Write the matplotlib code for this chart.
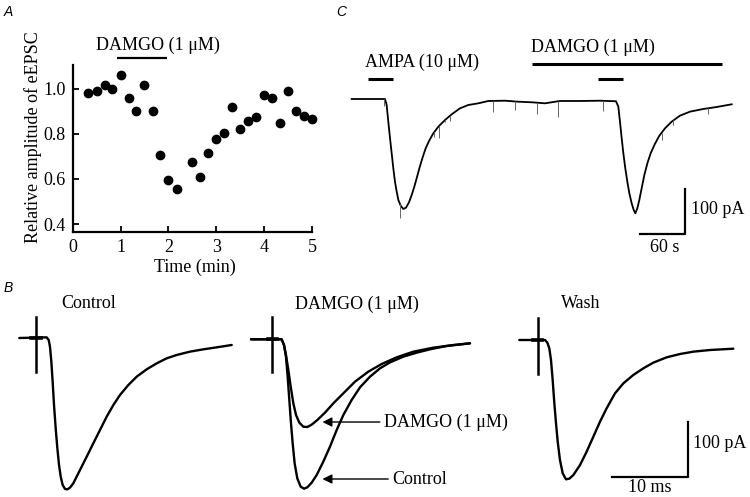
import matplotlib
matplotlib.use("Agg")
import matplotlib.pyplot as plt
import numpy as np

W, H = 750, 497
fig = plt.figure(figsize=(7.5, 4.97), dpi=100)

SERIF = "Liberation Serif"
SANS = "Liberation Sans"
FS = 13

# ---------------- Panel A data ----------------
time_min = [0.33, 0.5, 0.67, 0.83, 1.0, 1.17, 1.33, 1.5, 1.67, 1.83, 2.0, 2.17,
            2.5, 2.67, 2.83, 3.0, 3.17, 3.33, 3.5, 3.67, 3.83, 4.0, 4.17, 4.33,
            4.5, 4.67, 4.83, 5.0]
rel_amp = [0.98, 0.99, 1.015, 1.0, 1.062, 0.957, 0.90, 1.015, 0.90, 0.704, 0.594, 0.554,
           0.673, 0.61, 0.715, 0.777, 0.803, 0.917, 0.82, 0.857, 0.876, 0.972, 0.957, 0.848,
           0.99, 0.90, 0.879, 0.867]
a_xticks = [0, 1, 2, 3, 4, 5]
a_yticks = [0.4, 0.6, 0.8, 1.0]
a_damgo_bar = (0.93, 1.97)

# ---------------- Panel B data (ms, pA) ----------------
b_ctl_t = [-2.2, 1.40, 1.67, 1.84, 2.02, 2.19, 2.37, 2.59, 2.81, 3.03,
           3.25, 3.51, 3.82, 4.12, 4.47, 4.91, 5.35, 6.01, 6.67, 7.54,
           8.42, 9.30, 10.18, 11.05, 12.15, 13.25, 14.56, 15.88, 17.19, 18.51,
           20.26, 22.02, 23.77, 25.75]
b_ctl_i = [0, 1.2, -3.6, -15.8, -43, -79.4, -121.8, -164.2, -200.6, -230.9,
           -252.1, -267.3, -274.5, -275.2, -272.1, -264.2, -252.1, -233.9, -215.8, -191.5,
           -167.3, -143, -121.8, -103.6, -85.5, -70.3, -57, -46.1, -37, -30.9,
           -24.8, -20.6, -17, -12.7]

b_midctl_t = [-2.8, 1.23, 1.54, 1.80, 2.02, 2.24, 2.46, 2.68, 2.94, 3.29, 3.73, 4.17,
              4.61, 5.18, 5.84, 6.71, 7.59, 8.47, 9.35, 10.44, 11.54, 12.86, 14.17,
              15.49, 17.24, 19.0, 20.75, 22.94, 26.01]
b_midctl_i = [0, 0, -10.4, -31.6, -67.9, -110.4, -152.8, -189.1, -225.5, -252.8, -267.9,
              -271.6, -269.1, -260.7, -246.7, -222.5, -195.2, -164.9, -137.6, -110.4,
              -87.3, -67.9, -52.8, -41.9, -31.6, -24.3, -18.2, -12.2, -7.3]

b_dam_t = [-2.8, 1.23, 1.54, 1.80, 2.11, 2.42, 2.77, 3.12, 3.56, 4.08, 4.61, 5.18,
           5.93, 6.93, 8.03, 9.35, 10.88, 12.64, 14.39, 16.36, 18.56, 21.19, 23.82, 26.01]
b_dam_i = [0, 0, -10.4, -28.5, -55.8, -86.1, -116.4, -137.6, -151.6, -158.9, -159.5,
           -155.2, -146.7, -133.4, -116.4, -98.2, -77, -58.8, -44.9, -32.8, -22.5,
           -15.2, -10.4, -7.3]

b_wash_t = [-2.42, 0.96, 1.27, 1.53, 1.75, 1.97, 2.19, 2.41, 2.63, 2.93, 3.29, 3.72,
            4.16, 4.69, 5.57, 6.44, 7.32, 8.20, 9.07, 10.17, 11.27, 12.58, 13.90,
            15.21, 16.97, 18.72, 20.48, 22.67, 25.74]
b_wash_i = [0, 0, -4.8, -15.2, -36.4, -72.7, -115.2, -151.5, -184.8, -218.2, -242.4,
            -253.3, -252.1, -245.5, -227.3, -203, -175.8, -148.5, -124.2, -97, -78.8,
            -63.6, -51.5, -41.2, -31.5, -25.5, -21.2, -18.2, -15.8]

artifact_top = [39, 41, 39.5]
artifact_bottom = [-61, -59, -62]
b_titles = ["Control", "DAMGO (1 \u03bcM)", "Wash"]

# ---------------- Panel C data (s, pA) ----------------
c_t = [0, 44.4, 46.6, 48.8, 51.1, 53.3, 55.5, 57.7, 60.0, 62.2,
       65.3, 68.8, 72.4, 76.4, 80.0, 83.5, 86.6, 90.2, 94.2, 98.6,
       103.1, 108.8, 115.5, 124.4, 133.3, 144.4, 155.5, 168.8, 182.2, 204.4,
       222.1, 240, 257.7, 277.7, 304.4, 331.1, 352.4, 355.5, 357.7, 360.0,
       362.2, 364.8, 367.5, 370.2, 373.3, 376.0, 378.2, 380.8, 383.5, 386.6,
       390.2, 394.2, 398.6, 404.0, 410.2, 417.7, 426.6, 437.7, 451.1, 468.8,
       486.6, 506.6]
c_i = [0, 0, -13.3, -50.4, -87.4, -120.7, -154.1, -183.7, -205.9, -224.4,
       -237, -244.4, -241.5, -229.6, -213.3, -194.8, -176.3, -154.1, -131.8, -109.6,
       -93.3, -76.3, -61.5, -46.7, -34.1, -20.7, -13.3, -9.6, -4.4, -3.8,
       -6, -7.3, -9.6, -4.4, -4.4, -3.8, -5, -17, -50.4, -87.4,
       -120.7, -154.1, -183.7, -209.6, -231.8, -246.7, -254.1, -243, -224.4, -198.5,
       -168.9, -143, -120.7, -100.7, -81.5, -65.2, -50.4, -37, -28.1, -22.2,
       -17.8, -11.8]
c_spike_t = [43.5, 64.4, 110, 116, 125, 131, 189, 217.8, 246.7, 275.5, 335.5, 413.3, 428.9, 475.5]
c_spike_tip = [-15, -264, -84, -87, -50, -49, -28, -24, -34, -39, -27, -91, -58, -34]
c_ampa_bars = [(21.7, 55.1), (328.8, 361.3)]
c_damgo_bar = (240, 493.3)


def px_axes(left, top, right, bottom):
    return fig.add_axes([left / W, 1 - bottom / H, (right - left) / W, (bottom - top) / H])


def trace_axes(box, origin, sx, sy):
    left, top, right, bottom = box
    ox, oy = origin
    ax = px_axes(*box)
    ax.set_xlim((left - ox) / sx, (right - ox) / sx)
    ax.set_ylim(-(bottom - oy) / sy, (oy - top) / sy)
    ax.axis("off")
    return ax


def ftext(x, y, s, **kw):
    kw.setdefault("family", SERIF)
    kw.setdefault("fontsize", FS)
    fig.text(x / W, 1 - y / H, s, **kw)


# ================= Panel A =================
axA = px_axes(72.7, 65, 312, 232)
axA.plot(time_min, rel_amp, "o", color="black", markersize=6, clip_on=False)
axA.set_xlim(0, 5)
axA.set_ylim(0.365, 1.105)
axA.set_xticks(a_xticks)
axA.set_yticks(a_yticks)
axA.set_yticklabels(["0.4", "0.6", "0.8", "1.0"])
for s in ["top", "right"]:
    axA.spines[s].set_visible(False)
for s in ["left", "bottom"]:
    axA.spines[s].set_linewidth(1.6)
axA.tick_params(direction="in", length=4, width=1.3, labelsize=FS, pad=5)
for lab in axA.get_xticklabels() + axA.get_yticklabels():
    lab.set_family(SERIF)
axA.plot(a_damgo_bar, [1.137, 1.137], color="black", lw=1.6, clip_on=False,
         solid_capstyle="butt")
ftext(157.5, 45.5, "DAMGO (1 \u03bcM)", ha="center", va="center")
ftext(195, 267, "Time (min)", ha="center", va="center")
ftext(33, 137, "Relative amplitude of eEPSC", ha="center", va="center", rotation=90)

# ================= Panel B =================
B_SX, B_SY = 7.6, 0.55
axB1 = trace_axes((0, 295, 245, 497), (36, 338), B_SX, B_SY)
axB2 = trace_axes((245, 295, 500, 497), (272.3, 339.3), B_SX, B_SY)
axB3 = trace_axes((500, 295, 750, 497), (537.7, 340), B_SX, B_SY)

LWB = 1.7
for ax, t, i in [(axB1, b_ctl_t, b_ctl_i), (axB2, b_midctl_t, b_midctl_i),
                 (axB2, b_dam_t, b_dam_i), (axB3, b_wash_t, b_wash_i)]:
    ax.plot(t, i, color="black", lw=LWB, solid_joinstyle="round", solid_capstyle="round")
for ax, top, bot in zip([axB1, axB2, axB3], artifact_top, artifact_bottom):
    ax.plot([0, 0], [bot, top], color="black", lw=1.8)
    ax.plot([-0.6, 0.6], [0, 0], color="black", lw=2.6)

arrow_kw = dict(arrowstyle="-|>", color="black", lw=1.0, mutation_scale=14,
                shrinkA=1, shrinkB=0)
axB2.annotate("DAMGO (1 \u03bcM)", xy=(6.6, -150.4), xytext=(14.7, -150.4),
              ha="left", va="center", family=SERIF, fontsize=FS, arrowprops=arrow_kw)
axB2.annotate("Control", xy=(6.6, -254), xytext=(15.8, -254),
              ha="left", va="center", family=SERIF, fontsize=FS, arrowprops=arrow_kw)

# scale bar B
axB3.plot([9.78, 19.78, 19.78], [-248.5, -248.5, -148.5], color="black", lw=1.6)
ftext(650, 487, "10 ms", ha="center", va="center")
ftext(693, 443, "100 pA", ha="left", va="center")

for x, s in zip([89, 357, 581], b_titles):
    ftext(x, 304, s, ha="center", va="center")

# ================= Panel C =================
C_SX, C_SY = 0.75, 0.45
axC = trace_axes((340, 30, 745, 262), (351.7, 99), C_SX, C_SY)
axC.plot(c_t, c_i, color="black", lw=1.3, solid_joinstyle="round")
spike_base = np.interp(c_spike_t, c_t, c_i)
axC.vlines(c_spike_t, c_spike_tip, spike_base, color="#666666", lw=0.7)
for a, b in c_ampa_bars:
    axC.plot([a, b], [45, 45], color="black", lw=2.2, solid_capstyle="butt")
axC.plot(c_damgo_bar, [77.8, 77.8], color="black", lw=2.2, solid_capstyle="butt")
axC.plot([384.4, 444.4, 444.4], [-300, -300, -200], color="black", lw=1.6)
ftext(365, 62, "AMPA (10 \u03bcM)", ha="left", va="center")
ftext(531, 47, "DAMGO (1 \u03bcM)", ha="left", va="center")
ftext(691, 210, "100 pA", ha="left", va="center")
ftext(665, 248, "60 s", ha="center", va="center")

# panel letters
for x, y, s in [(4, 12, "A"), (336, 12, "C"), (4, 288, "B")]:
    fig.text(x / W, 1 - y / H, s, family=SANS, style="italic", fontsize=10,
             ha="left", va="center")

fig.savefig("out.png", dpi=100)
